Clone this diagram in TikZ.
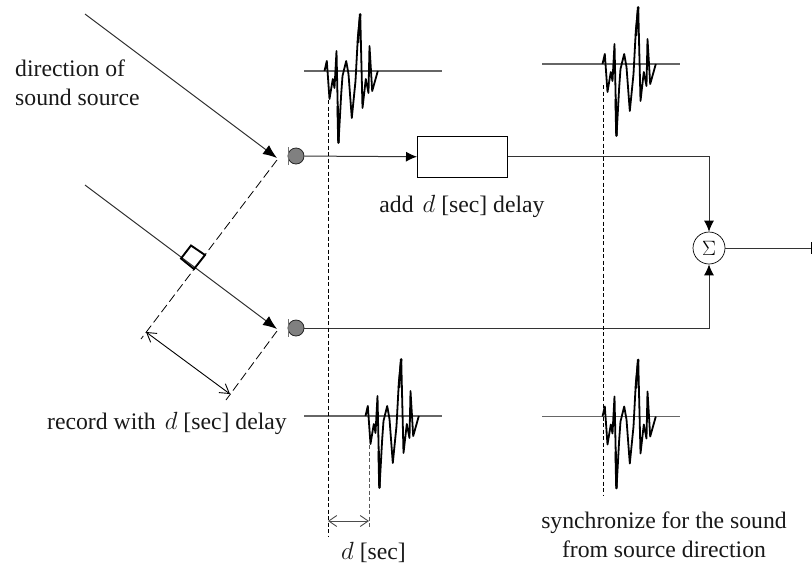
\documentclass[tikz,border=0pt]{standalone}
\usepackage{fontspec}
\setmainfont{Liberation Serif}
\usetikzlibrary{arrows.meta}
\newcommand{\dsym}{{\fontsize{27}{28}\selectfont$d$}}
\tikzset{
 x=1pt,y=-1pt,
 txt/.style={font=\fontsize{23.7}{26}\selectfont,inner sep=0pt,text=black!90},
 conn/.style={line width=1pt,draw=black!80},
 ray/.style={conn,-{Latex[length=14pt,width=11pt,color=black]}},
 flow/.style={conn,-{Latex[length=11pt,width=10pt,color=black]}},
 dash1/.style={line width=0.9pt,dash pattern=on 4pt off 2.5pt},
 dash2/.style={line width=0.8pt,dash pattern=on 9pt off 4pt},
 dbl/.style={line width=0.9pt,{Straight Barb[length=9pt,width=11pt]}-{Straight Barb[length=9pt,width=11pt]}},
 base/.style={line width=1.1pt,draw=black!60},
 wavel/.style={line width=1.8pt,line join=round},
 mic/.style={circle,draw=black!85,fill=black!50,line width=0.8pt,minimum size=16pt,inner sep=0pt},
 micbar/.style={line width=1pt,draw=black!55},
}
\newcommand{\wavetrace}[2]{%
 \draw[wavel,shift={(#1,#2)}] (0,0) -- (2.3,-10) -- (5,28) -- (8.3,8) -- (10,17) -- (12,-20)
 -- (14,72) -- (16.7,23) -- (18,5) -- (21.7,-10) -- (24,3)
 -- (27.3,47) -- (31,10) -- (33.3,-33) -- (35.7,-57) -- (38,37) -- (41.3,8) -- (44,22) -- (45,-25)
 -- (47.7,20) -- (53.3,0);
 \draw[wavel,line width=2.4pt,shift={(#1,#2)}] (13.2,35) -- (14,72) (33.5,-28) -- (35.7,-57);
}
\begin{document}
\begin{tikzpicture}
\useasboundingbox (0,0) rectangle (812,566);
% nodes
\node[mic] (m1) at (296,156) {};
\node[mic] (m2) at (296,328) {};
\coordinate (b1a) at (288,147); \coordinate (b1b) at (288,165);
\coordinate (b2a) at (288,319); \coordinate (b2b) at (288,337);
\node[draw=black,line width=1pt,minimum width=90pt,minimum height=41pt,inner sep=0pt,anchor=north west] (delay) at (417,136) {};
\node[circle,draw=black,line width=0.7pt,minimum size=32pt,inner sep=0pt,font=\fontsize{21}{24}\selectfont] (sum) at (709,248) {$\Sigma$};
\coordinate (corner1) at (709,156);
\coordinate (corner2) at (709,328);
\coordinate (out) at (811.5,248);
\coordinate (outa) at (811.5,242); \coordinate (outb) at (811.5,254);
% rays
\coordinate (r1s) at (85,14); \coordinate (r1e) at (277,158);
\coordinate (r2s) at (85,185); \coordinate (r2e) at (277,329);
\draw[ray] (r1s) -- (r1e);
\draw[ray] (r2s) -- (r2e);
% wavefronts
\coordinate (w1) at (277,160); \coordinate (w2) at (141,339);
\coordinate (w3) at (277,331); \coordinate (w4) at (226,400);
\draw[dash2] (w1) -- (w2);
\draw[dash2] (w3) -- (w4);
\coordinate (a1) at (146,332); \coordinate (a2) at (230,394);
\draw[dbl] (a1) -- (a2);
\draw[line width=1.9pt] (191,245.5) -- (205,255) -- (194,269) -- (181,258.5) -- cycle;
% microphones
\draw[micbar] (b1a) -- (b1b);
\draw[micbar] (b2a) -- (b2b);
% flow
\draw[flow] (m1) -- (delay);
\draw[flow] (delay.east |- m1) -- (corner1) -- (sum);
\draw[flow] (m2) -- (corner2) -- (sum);
\draw[conn] (sum) -- (out);
\draw[line width=0.8pt] (outa) -- (outb);
% baselines and waves
\coordinate (t1a) at (304,71); \coordinate (t1b) at (442,71);
\coordinate (t2a) at (542,64); \coordinate (t2b) at (680,64);
\coordinate (t3a) at (304,416); \coordinate (t3b) at (442,416);
\coordinate (t4a) at (542,416.5); \coordinate (t4b) at (680,416.5);
\draw[base] (t1a) -- (t1b);
\draw[base] (t2a) -- (t2b);
\draw[base] (t3a) -- (t3b);
\draw[base] (t4a) -- (t4b);
\wavetrace{324.5}{71}
\wavetrace{602.5}{64}
\wavetrace{365.5}{416}
\wavetrace{602.5}{416.5}
% time marks
\coordinate (v1a) at (328,100); \coordinate (v1b) at (328,537);
\coordinate (v2a) at (603,85); \coordinate (v2b) at (603,495);
\coordinate (v3a) at (369,445); \coordinate (v3b) at (369,528);
\draw[dash1] (v1a) -- (v1b);
\draw[dash1] (v2a) -- (v2b);
\draw[dash1,draw=black!65] (v3a) -- (v3b);
\coordinate (d1) at (328,521); \coordinate (d2) at (369,521);
\draw[dbl,draw=black!70,{Straight Barb[length=8pt,width=11pt]}-{Straight Barb[length=8pt,width=11pt]}] (d1) -- (d2);
% labels
\node[txt,anchor=base west] (l1) at (15,76) {direction of};
\node[txt,anchor=base west] (l2) at (15,105) {sound source};
\node[txt,anchor=base] (l3) at (462,212) {add\hspace{9pt}\dsym\hspace{6pt}[sec] delay};
\node[txt,anchor=base west] (l4) at (47,429) {record with\hspace{9pt}\dsym\hspace{6pt}[sec] delay};
\node[txt,anchor=base] (l5) at (664,528) {synchronize for the sound};
\node[txt,anchor=base] (l6) at (664,557) {from source direction};
\node[txt,anchor=base] (l7) at (373.5,559) {\dsym\hspace{6pt}[sec]};
\end{tikzpicture}
\end{document}
